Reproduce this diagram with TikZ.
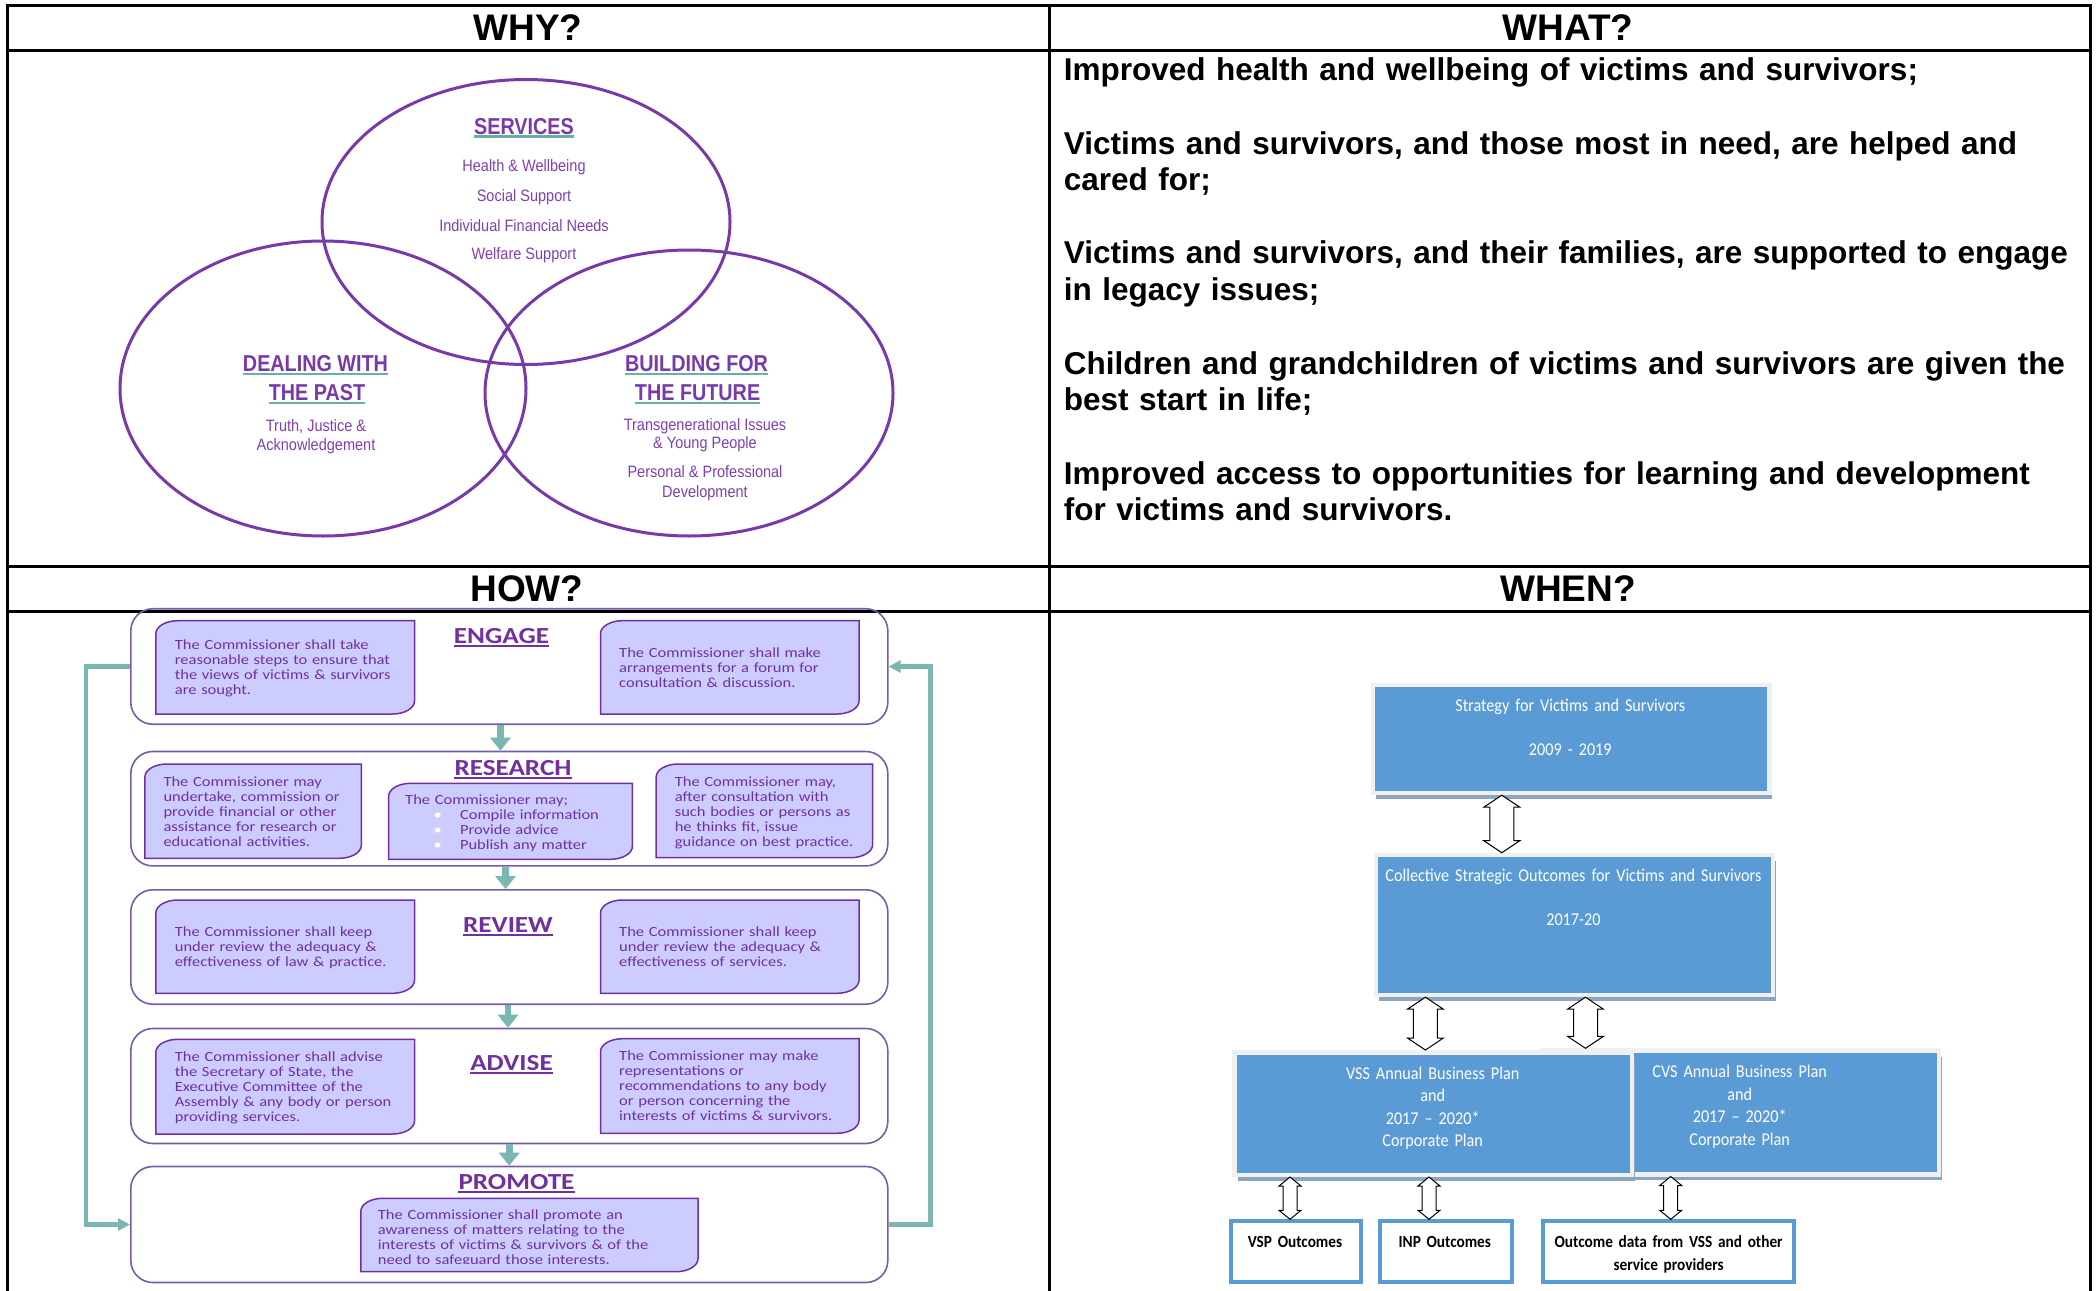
\documentclass[tikz,border=0pt]{standalone}
\usepackage{fontspec}
\setmainfont{Liberation Sans}
\newfontfamily\vennfont[FakeStretch=0.88]{Liberation Sans}
\newfontfamily\venntitlefont[FakeStretch=0.86]{Liberation Sans}
\newfontfamily\howfont[FakeStretch=1.18]{Carlito}
\newfontfamily\whenfont[FakeStretch=0.9]{Carlito}
\usetikzlibrary{arrows.meta,calc,shadows}

\definecolor{vennpurple}{RGB}{120,58,170}
\definecolor{venntext}{RGB}{128,64,178}
\definecolor{vennteal}{RGB}{104,176,160}
\definecolor{howpurple}{RGB}{112,48,160}
\definecolor{howfill}{RGB}{204,204,255}
\definecolor{howouter}{RGB}{120,92,168}
\definecolor{howteal}{RGB}{122,182,178}
\definecolor{whenblue}{RGB}{91,155,213}
\definecolor{whenframe}{RGB}{240,240,240}
\definecolor{whenshadow}{RGB}{140,166,192}

% white bullet used in the middle RESEARCH box
\newcommand\howbullet{\makebox[54.8pt][l]{\hspace*{28.5pt}\textcolor{white}{•}}}

% statement box: rounded top-left and bottom-right corners
% #1 name, #2 left, #3 top, #4 right, #5 bottom (measured downwards)
\newcommand\commbox[5]{%
  \node[innerframe, minimum width={#4pt-#2pt}, minimum height={#5pt-#3pt}]
    (#1) at ({(#2+#4)/2},{-(#3+#5)/2}) {};
  \filldraw[commfill] (#1.south west) -- ([yshift=-13pt]#1.north west)
    arc[start angle=180, end angle=90, x radius=22pt, y radius=13pt]
    -- (#1.north east) -- ([yshift=13pt]#1.south east)
    arc[start angle=0, end angle=-90, x radius=22pt, y radius=13pt] -- cycle;
}

\begin{document}
\begin{tikzpicture}[x=1pt, y=1pt,
  grid/.style={line width=3pt, black, line cap=rect},
  head/.style={font={\bfseries\fontsize{37}{44}\selectfont}, inner sep=0, anchor=base},
  what/.style={font={\bfseries\fontsize{31.5}{36.4}\selectfont}, inner sep=0,
    anchor=base west, text width=1025pt, align=left},
  venn/.style={vennpurple, line width=3pt},
  vtitle/.style={font={\venntitlefont\bfseries\fontsize{23}{26}\selectfont}, text=vennpurple, inner sep=0, anchor=base},
  vtext/.style={font={\vennfont\fontsize{16.5}{19}\selectfont}, text=venntext, inner sep=0, anchor=base},
  vline/.style={vennteal, line width=2.5pt},
  outerbox/.style={draw=howouter, line width=1.6pt, rounded corners=22pt, inner sep=0},
  innerframe/.style={inner sep=0, outer sep=0},
  commfill/.style={fill=howfill, draw=howpurple, line width=1.5pt},
  comm/.style={font={\howfont\fontsize{14}{15}\selectfont}, text=howpurple, inner sep=0,
    anchor=base west, text width=330pt, align=left},
  htitle/.style={font={\howfont\bfseries\fontsize{23}{27}\selectfont}, text=howpurple, inner sep=0, anchor=base},
  hline/.style={howpurple, line width=2pt},
  flow/.style={howteal, line width=6.5pt, -{Triangle[width=20pt,length=13pt]}},
  loopback/.style={howteal, line width=4.5pt, -{Triangle[width=12pt,length=12pt]}},
  whenbox/.style={draw=whenframe, line width=4.5pt, fill=whenblue, inner sep=0,
    drop shadow={shadow xshift=3pt, shadow yshift=-6pt, fill=whenshadow, opacity=1}},
  whentext/.style={font={\whenfont\fontsize{18}{22.6}\selectfont}, text=white, inner sep=0,
    anchor=base, text width=440pt, align=center},
  outbox/.style={draw=whenblue, line width=4pt, fill=white, inner sep=0},
  outtext/.style={font={\whenfont\bfseries\fontsize{17}{22.7}\selectfont}, inner sep=0,
    anchor=base, text width=260pt, align=center},
  hollow/.style n args={3}{draw=black, fill=white, line width=1pt,
    to path={let \p1=(\tikztostart), \p2=(\tikztotarget) in
      (\x1,\y1) -- ({\x1+#2pt},{\y1-#3pt}) -- ({\x1+#1pt},{\y1-#3pt})
      -- ({\x1+#1pt},{\y2+#3pt}) -- ({\x1+#2pt},{\y2+#3pt}) -- (\x1,\y2)
      -- ({\x1-#2pt},{\y2+#3pt}) -- ({\x1-#1pt},{\y2+#3pt})
      -- ({\x1-#1pt},{\y1-#3pt}) -- ({\x1-#2pt},{\y1-#3pt}) -- cycle}}
]

% page
\fill[white] (0,0) rectangle (2098,-1290);
\useasboundingbox (0,0) rectangle (2098,-1290);

% table rules
\draw[grid] (7,-1290) -- (7,-6) -- (2090,-6) -- (2090,-1290);
\draw[grid] (7,-51) -- (2090,-51);
\draw[grid] (7,-566) -- (2090,-566);
\draw[grid] (7,-611) -- (2090,-611);
\draw[grid] (1049,-6) -- (1049,-1290);

% headings
\node[head] (hWhy)  at (528,-41)   {WHY?};
\node[head] (hWhat) at (1568,-41)  {WHAT?};
\node[head] (hHow)  at (527,-601)  {HOW?};
\node[head] (hWhen) at (1568,-601) {WHEN?};

% ---------------- WHY: three overlapping themes
\draw[venn] (526,-222) ellipse [x radius=204, y radius=142.5];
\draw[venn] (323,-388.5) ellipse [x radius=203, y radius=147.5];
\draw[venn] (689,-393) ellipse [x radius=204, y radius=143];

\node[vtitle] (vS) at (524,-134) {SERVICES};
\draw[vline] ([yshift=-2.5pt]vS.base west) -- ([yshift=-2.5pt]vS.base east);
\node[vtext] (vS1) at (524,-171.5) {Health \& Wellbeing};
\node[vtext] (vS2) at (524,-201.5) {Social Support};
\node[vtext] (vS3) at (524,-231)   {Individual Financial Needs};
\node[vtext] (vS4) at (524,-259.5) {Welfare Support};

\node[vtitle] (vD1) at (315.5,-371.4) {DEALING WITH};
\draw[vline] ([yshift=-2.5pt]vD1.base west) -- ([yshift=-2.5pt]vD1.base east);
\node[vtitle] (vD2) at (317,-400.7) {THE PAST};
\draw[vline] ([yshift=-2.5pt]vD2.base west) -- ([yshift=-2.5pt]vD2.base east);
\node[vtext] (vD3) at (316,-431.5) {Truth, Justice \&};
\node[vtext] (vD4) at (316,-450.5) {Acknowledgement};

\node[vtitle] (vB1) at (696.6,-371.4) {BUILDING FOR};
\draw[vline] ([yshift=-2.5pt]vB1.base west) -- ([yshift=-2.5pt]vB1.base east);
\node[vtitle] (vB2) at (697.6,-400.7) {THE FUTURE};
\draw[vline] ([yshift=-2.5pt]vB2.base west) -- ([yshift=-2.5pt]vB2.base east);
\node[vtext] (vB3) at (705,-430)   {Transgenerational Issues};
\node[vtext] (vB4) at (705,-448)   {\& Young People};
\node[vtext] (vB5) at (705,-477.5) {Personal \& Professional};
\node[vtext] (vB6) at (705,-497.5) {Development};

% ---------------- WHAT: outcomes
\node[what] (w1) at (1063.6,-80.4) {Improved health and wellbeing of victims and survivors;};
\node[what] (w2) at (1063.6,-154.3) {Victims and survivors, and those most in need, are helped and\\cared for;};
\node[what] (w3) at (1063.6,-263.6) {Victims and survivors, and their families, are supported to engage\\in legacy issues;};
\node[what] (w4) at (1063.6,-374.3) {Children and grandchildren of victims and survivors are given the\\best start in life;};
\node[what] (w5) at (1063.6,-484) {Improved access to opportunities for learning and development\\for victims and survivors.};

% ---------------- HOW: the five functions
\node[outerbox, minimum width=757pt, minimum height=115.5pt] (engage)   at (509.3,-666.5) {};
\node[outerbox, minimum width=757pt, minimum height=114.4pt] (research) at (509.3,-808.7) {};
\node[outerbox, minimum width=757pt, minimum height=114.4pt] (review)   at (509.3,-947) {};
\node[outerbox, minimum width=757pt, minimum height=115pt]   (advise)   at (509.3,-1086) {};
\node[outerbox, minimum width=757pt, minimum height=116pt]   (promote)  at (509.3,-1224.5) {};

\commbox{eL}{155.8}{620.7}{414.5}{714}
\commbox{eR}{600.5}{620.7}{859}{714}
\commbox{rL}{144.9}{764}{361.3}{858.3}
\commbox{rM}{388.6}{783.3}{632.4}{859.3}
\commbox{rR}{656.2}{764}{872.6}{857.7}
\commbox{vL}{155.8}{900}{414.5}{993.3}
\commbox{vR}{600.5}{900}{859}{993.3}
\commbox{aL}{155.8}{1039.3}{414.5}{1134}
\commbox{aR}{600.5}{1038.7}{859}{1133.3}
\commbox{pM}{360.8}{1198.3}{698}{1271.7}

\node[htitle] (tEng) at (501.5,-643.3) {ENGAGE};
\draw[hline] ([yshift=-2.7pt]tEng.base west) -- ([yshift=-2.7pt]tEng.base east);
\node[htitle] (tRes) at (513,-775) {RESEARCH};
\draw[hline] ([yshift=-2.7pt]tRes.base west) -- ([yshift=-2.7pt]tRes.base east);
\node[htitle] (tRev) at (508,-932.7) {REVIEW};
\draw[hline] ([yshift=-2.7pt]tRev.base west) -- ([yshift=-2.7pt]tRev.base east);
\node[htitle] (tAdv) at (511.5,-1070.7) {ADVISE};
\draw[hline] ([yshift=-2.7pt]tAdv.base west) -- ([yshift=-2.7pt]tAdv.base east);
\node[htitle] (tPro) at (516.5,-1189.3) {PROMOTE};
\draw[hline] ([yshift=-2.7pt]tPro.base west) -- ([yshift=-2.7pt]tPro.base east);

\node[comm] (xeL) at (174.7,-649.3) {The Commissioner shall take\\reasonable steps to ensure that\\the views of victims \& survivors\\are sought.};
\node[comm] (xeR) at (619,-657.6) {The Commissioner shall make\\arrangements for a forum for\\consultation \& discussion.};
\node[comm] (xrL) at (163.3,-786) {The Commissioner may\\undertake, commission or\\provide financial or other\\assistance for research or\\educational activities.};
\node[comm] (xrM) at (405,-804.3) {The Commissioner may;\\\howbullet Compile information\\\howbullet Provide advice\\\howbullet Publish any matter};
\node[comm] (xrR) at (674.6,-786) {The Commissioner may,\\after consultation with\\such bodies or persons as\\he thinks fit, issue\\guidance on best practice.};
\node[comm] (xvL) at (174.7,-936.6) {The Commissioner shall keep\\under review the adequacy \&\\effectiveness of law \& practice.};
\node[comm] (xvR) at (619,-936.6) {The Commissioner shall keep\\under review the adequacy \&\\effectiveness of services.};
\node[comm] (xaL) at (174.7,-1061.6) {The Commissioner shall advise\\the Secretary of State, the\\Executive Committee of the\\Assembly \& any body or person\\providing services.};
\node[comm] (xaR) at (619,-1060.6) {The Commissioner may make\\representations or\\recommendations to any body\\or person concerning the\\interests of victims \& survivors.};
\begin{scope}
  \clip (360.8,-1198.3) rectangle (698,-1263.5);
  \node[comm] (xpM) at (377.7,-1219.6) {The Commissioner shall promote an\\awareness of matters relating to the\\interests of victims \& survivors \& of the\\need to safeguard those interests.};
\end{scope}

\draw[flow] ([xshift=-8.8pt]engage.south) -- ([xshift=-8.8pt]research.north);
\draw[flow] ([xshift=-3.8pt]research.south) -- ([xshift=-3.8pt]review.north);
\draw[flow] ([xshift=-1.3pt]review.south) -- ([xshift=-1.3pt]advise.north);
\draw[flow] (advise.south) -- (promote.north);
\draw[loopback] (engage.west) -- ++(-44,0) |- (promote.west);
\draw[loopback] (promote.east) -- ++(42,0) |- (engage.east);

% ---------------- WHEN: planning hierarchy
\node[whenbox, minimum width=396.6pt, minimum height=108pt] (s1)  at (1571.05,-738.95) {};
\node[whenbox, minimum width=397.2pt, minimum height=140pt] (s2)  at (1574.45,-924.95) {};
\node[whenbox, minimum width=396.5pt, minimum height=123.7pt] (cvs) at (1740.5,-1112.4) {};
\node[whenbox, minimum width=397.1pt, minimum height=122.5pt] (vss) at (1433.2,-1113.5) {};
\node[outbox, minimum width=130.4pt, minimum height=60.7pt] (vsp)   at (1296,-1251.65) {};
\node[outbox, minimum width=132pt,   minimum height=60.7pt] (inp)   at (1445.8,-1251.65) {};
\node[outbox, minimum width=251.2pt, minimum height=60.7pt] (odata) at (1668.6,-1251.65) {};

\node[whentext] (t1a) at (1570.3,-711.7) {Strategy for Victims and Survivors};
\node[whentext] (t1b) at (1570.3,-755) {2009 - 2019};
\node[whentext] (t2a) at (1573.4,-881.7) {Collective Strategic Outcomes for Victims and Survivors};
\node[whentext] (t2b) at (1573.4,-925) {2017-20};
\node[whentext] (tV) at (1432.7,-1079) {VSS Annual Business Plan\\and\\2017 – 2020*\\Corporate Plan};
\node[whentext] (tC) at (1739.7,-1077.7) {CVS Annual Business Plan\\and\\2017 – 2020*\\Corporate Plan};
\node[outtext] (tVSP) at (1295,-1247.3) {VSP Outcomes};
\node[outtext] (tINP) at (1444.8,-1247.3) {INP Outcomes};
\node[outtext] (tOD)  at (1668.6,-1247.3) {Outcome data from VSS and other\\service providers};

\coordinate (xA) at (1501.8,0);
\coordinate (xB) at (1425.4,0);
\coordinate (xC) at (1585.5,0);
\coordinate (xD) at (1290,0);
\coordinate (xE) at (1429,0);
\coordinate (xF) at (1670.7,0);
\draw[hollow={12}{18}{12}] (s1.south -| xA) to (s2.north -| xA);
\draw[hollow={12}{18}{12}] (s2.south -| xB) to (vss.north -| xB);
\draw[hollow={12}{18}{12}] (s2.south -| xC) to (cvs.north -| xC);
\draw[hollow={7}{11}{9}] (vss.south -| xD) to (vsp.north -| xD);
\draw[hollow={7}{11}{9}] (vss.south -| xE) to (inp.north -| xE);
\draw[hollow={7}{11}{9}] (cvs.south -| xF) to (odata.north -| xF);

\end{tikzpicture}
\end{document}
